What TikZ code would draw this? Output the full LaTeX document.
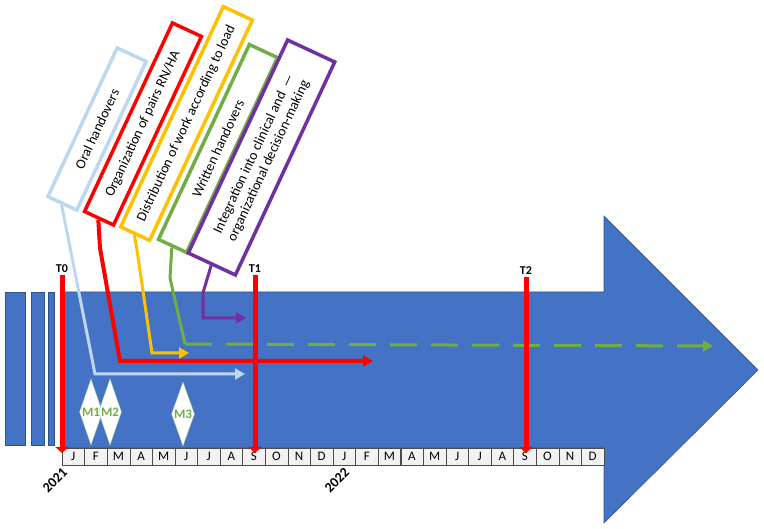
\documentclass[tikz,border=0pt]{standalone}
\usepackage{fontspec}
\setmainfont{Carlito}
\usetikzlibrary{arrows.meta,positioning,shapes.geometric}
\definecolor{arrowblue}{RGB}{68,114,196}
\definecolor{arrowedge}{RGB}{47,82,143}
\definecolor{paleblue}{RGB}{189,215,238}
\definecolor{ored}{RGB}{255,0,0}
\definecolor{oyellow}{RGB}{255,192,0}
\definecolor{ogreen}{RGB}{112,173,71}
\definecolor{opurple}{RGB}{112,48,160}

\begin{document}
\begin{tikzpicture}[
  x=1pt, y=-1pt,
  card/.style={rectangle, draw, fill=white, line width=3.5pt, rotate=65,
    inner sep=3pt, align=center, font=\fontsize{14}{16}\selectfont},
  link/.style={line width=3pt, -{Triangle[length=10pt,width=11pt]}},
  tline/.style={draw=ored, line width=5pt, -{Triangle[length=6pt,width=13pt]}},
  tlab/.style={font=\bfseries\fontsize{12}{12}\selectfont, inner sep=1pt},
  month/.style={draw=black!70, fill=black!5, minimum width=22.5pt,
    minimum height=17pt, inner sep=0pt, font=\fontsize{13}{13}\selectfont},
  mile/.style={diamond, draw=ogreen!60, fill=white, aspect=0.35, inner sep=0pt,
    minimum width=23pt, minimum height=66pt, text=ogreen,
    font=\bfseries\fontsize{13}{13}\selectfont},
  year/.style={rotate=45, font=\bfseries\fontsize{14}{14}\selectfont},
  bar/.style={fill=arrowblue, draw=arrowedge, line width=0.6pt},
]
\useasboundingbox (0,0) rectangle (764,529);

% BIG ARROW
\draw[bar] (62,292) -- (604,292) -- (604,216) -- (758,370) -- (604,523)
  -- (604,448) -- (62,448) -- cycle;
\draw[bar] (5,292) rectangle (25,445);
\draw[bar] (31,292) rectangle (44,445);
\draw[bar] (48,292) rectangle (54,445);

% MONTHS
\foreach \m [count=\i] in {J,F,M,A,M,J,J,A,S,O,N,D,J,F,M,A,M,J,J,A,S,O,N,D}
  \node[month] (m\i) at ({62+(\i-0.5)*22.58},456.5) {\m};
\node[year] (y2021) at (55,480) {2021};
\node[year] (y2022) at (337,480) {2022};

% INTERVENTIONS (boxes)
\node[card, draw=paleblue, minimum width=164pt, minimum height=32pt]
  (oral) at (97,129) {Oral handovers};
\node[card, draw=ored, minimum width=208pt, minimum height=32pt]
  (pairs) at (143,124) {Organization of pairs RN/HA};
\node[card, draw=oyellow, minimum width=243pt, minimum height=32pt]
  (workload) at (186.5,123.5) {Distribution of work according to load};
\node[card, draw=ogreen, minimum width=215pt, minimum height=31pt]
  (written) at (218,148.5) {Written handovers};
\node[card, draw=opurple, minimum width=235pt, minimum height=52pt]
  (integration) at (261.5,157.5)
  {Integration into clinical and\ \ ---\\organizational decision-making};

% ARROW ENDS
\coordinate (oralend) at (245,374);
\coordinate (pairsend) at (373,361);
\coordinate (workend) at (189,353);
\coordinate (writtenturn) at (185,344);
\coordinate (writtenend) at (713,346);
\coordinate (integend) at (246,318);

% CONNECTORS
\draw[link, paleblue] (oral.west) -- (95,374) -- (oralend);
\draw[link, ored, line width=4pt] (pairs.west) -- (100,248) -- (120,361) -- (pairsend);
\draw[link, oyellow] (workload.west) -- (137,250) -- (152,353) -- (workend);
\draw[ogreen, line width=3pt, line join=round] (written.west) -- (170,278) -- (writtenturn);
\draw[link, ogreen, dash pattern=on 27pt off 14pt] (writtenturn) -- (writtenend);
\draw[link, opurple] (integration.west) -- (203,293) -- (203,318) -- (integend);

% TIME POINTS
\coordinate (t0) at (62,275);
\coordinate (t0b) at (62,453);
\coordinate (t1) at (255,275);
\coordinate (t1b) at (255,453);
\coordinate (t2) at (526,277);
\coordinate (t2b) at (526,453);
\draw[tline] (t0) -- (t0b);
\draw[tline] (t1) -- (t1b);
\draw[tline] (t2) -- (t2b);
\node[tlab, above=1pt of t0] (t0lab) {T0};
\node[tlab, above=1pt of t1] (t1lab) {T1};
\node[tlab, above=1pt of t2] (t2lab) {T2};

% MILESTONES
\node[mile] (mone) at (91,412) {M1};
\node[mile] (mtwo) at (110,412) {M2};
\node[mile, minimum height=64pt] (mthree) at (183,414) {M3};
\end{tikzpicture}
\end{document}
